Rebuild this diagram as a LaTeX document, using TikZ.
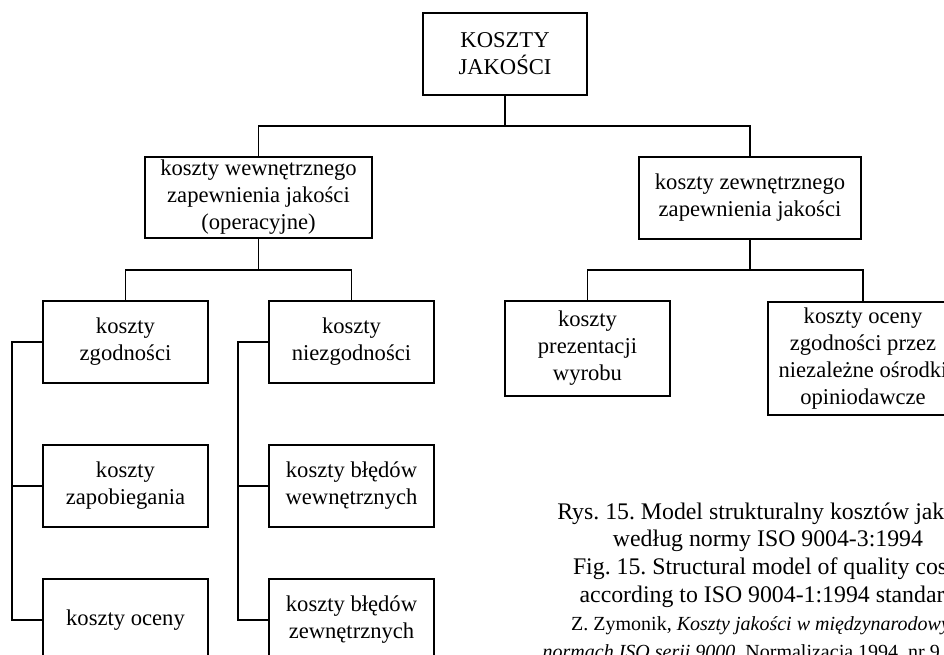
\documentclass[tikz,border=0pt]{standalone}
\usepackage{fontspec}
\setmainfont{Liberation Serif}
\frenchspacing
\begin{document}
\begin{tikzpicture}[x=1pt,y=-1pt,
  line width=1.4pt,
  box/.style={draw, line width=1.3pt, align=center, inner sep=0pt,
    font=\fontsize{22.6}{27}\selectfont},
  captext/.style={anchor=base, inner sep=0pt,
    font=\fontsize{23.8}{28}\selectfont},
  srctext/.style={anchor=base, inner sep=0pt,
    font=\fontsize{20}{28}\selectfont}]
\useasboundingbox (0,0) rectangle (944,655);
\clip (0,0) rectangle (944,655);

% root
\node[box, minimum width=164pt, minimum height=82pt] (root) at (505,54) {KOSZTY\\JAKOŚCI};

% second level
\node[box, minimum width=227pt, minimum height=81pt] (wew) at (258.5,197.5)
  {koszty wewnętrznego\\zapewnienia jakości\\(operacyjne)};
\node[box, minimum width=222pt, minimum height=82pt] (zew) at (750,198)
  {koszty zewnętrznego\\zapewnienia jakości};

% internal branch
\node[box, minimum width=165pt, minimum height=82pt] (zg) at (125.5,342) {koszty\\zgodności};
\node[box, minimum width=165pt, minimum height=82pt] (nz) at (351.5,342) {koszty\\niezgodności};
\node[box, minimum width=165pt, minimum height=82pt] (zap) at (125.5,486) {koszty\\zapobiegania};
\node[box, minimum width=165pt, minimum height=82pt] (oc) at (125.5,620) {koszty oceny};
\node[box, minimum width=165pt, minimum height=82pt] (bw) at (351.5,486) {koszty błędów\\wewnętrznych};
\node[box, minimum width=165pt, minimum height=82pt] (bz) at (351.5,620) {koszty błędów\\zewnętrznych};

% external branch
\node[box, minimum width=165pt, minimum height=95pt] (pr) at (587.5,348.5)
  {koszty\\prezentacji\\wyrobu};
\node[box, minimum width=190pt, minimum height=113pt] (oz) at (863,358.5)
  {koszty oceny\\zgodności przez\\niezależne ośrodki\\opiniodawcze};

% junction points
\coordinate (j0) at (505,126);
\coordinate (j1) at (258.5,270);
\coordinate (j2) at (750,270);
\coordinate (szg) at (12,342);
\coordinate (snz) at (238,342);

% connectors
\draw (root.south) -- (j0);
\draw (wew.north) |- (j0) -| (zew.north);
\draw (wew.south) -- (j1);
\draw (zg.north) |- (j1) -| (nz.north);
\draw (zew.south) -- (j2);
\draw (pr.north) |- (j2) -| (oz.north);

\draw (zg.west) -- (szg) |- (oc.west);
\draw (zap.west) -- (zap.west -| szg);
\draw (nz.west) -- (snz) |- (bz.west);
\draw (bw.west) -- (bw.west -| snz);

% caption, centred lines
\node[captext] (c1) at (770,519) {Rys. 15. Model strukturalny kosztów jakości};
\node[captext] (c2) at (768,546) {według normy ISO 9004-3:1994};
\node[captext] (c3) at (768,574) {Fig. 15. Structural model of quality costs};
\node[captext] (c4) at (768,602) {according to ISO 9004-1:1994 standard};
\node[srctext] (c5) at (770,630) {Z. Zymonik, \textit{Koszty jakości w międzynarodowych}};
\node[srctext, anchor=base west] (c6) at (542,658)
  {\textit{normach ISO serii 9000}, Normalizacja 1994, nr 9};
\end{tikzpicture}
\end{document}
